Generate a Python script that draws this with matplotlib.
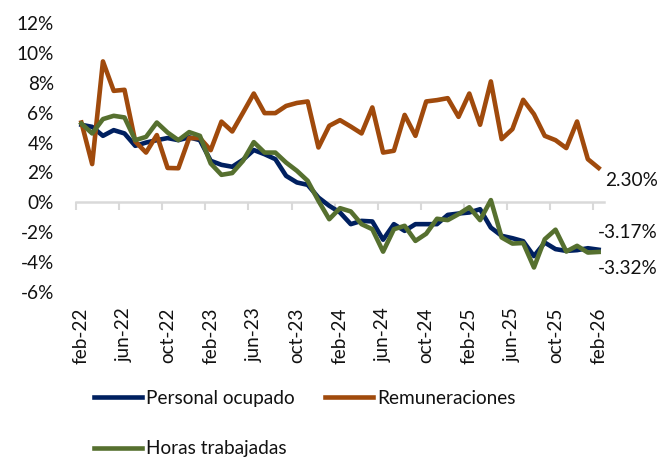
import numpy as np
import matplotlib
matplotlib.use("Agg")
import matplotlib.pyplot as plt

plt.rcParams['font.family'] = ['Lato', 'DejaVu Sans']

tick_labels = ["feb-22", "jun-22", "oct-22", "feb-23", "jun-23", "oct-23", "feb-24",
               "jun-24", "oct-24", "feb-25", "jun-25", "oct-25", "feb-26"]

remuneraciones = [5.34, 2.56, 9.43, 7.46, 7.53, 4.07, 3.33, 4.5, 2.3, 2.28,
                  4.3, 4.3, 3.49, 5.4, 4.74, 6.0, 7.28, 5.97, 5.97, 6.45,
                  6.65, 6.75, 3.67, 5.12, 5.5, 5.07, 4.61, 6.35, 3.33, 3.45,
                  5.85, 4.45, 6.75, 6.84, 6.97, 5.72, 7.28, 5.19, 8.09, 4.23,
                  4.9, 6.86, 5.9, 4.45, 4.16, 3.63, 5.41, 2.89, 2.30]

personal = [5.19, 5.05, 4.45, 4.83, 4.61, 3.78, 4.0, 4.16, 4.30, 4.16,
            4.35, 4.16, 2.78, 2.51, 2.38, 2.85, 3.5, 3.22, 2.89, 1.77,
            1.33, 1.17, 0.32, -0.23, -0.68, -1.46, -1.24, -1.28, -2.5, -1.46,
            -1.91, -1.46, -1.46, -1.46, -0.84, -0.75, -0.68, -0.46, -1.69, -2.24,
            -2.4, -2.6, -3.6, -2.69, -3.13, -3.25, -3.2, -3.07, -3.17]

horas = [5.27, 4.61, 5.57, 5.79, 5.68, 4.16, 4.38, 5.34, 4.67, 4.16,
         4.7, 4.45, 2.6, 1.84, 1.96, 2.78, 4.03, 3.33, 3.33, 2.66,
         2.11, 1.44, 0.10, -1.13, -0.39, -0.61, -1.46, -1.80, -3.3, -1.80,
         -1.57, -2.58, -2.1, -1.1, -1.19, -0.79, -0.33, -1.19, 0.15, -2.35,
         -2.76, -2.72, -4.36, -2.47, -1.83, -3.29, -2.91, -3.36, -3.32]

c_blue = '#002060'
c_orange = '#A04A0C'
c_green = '#56702F'
grid_c = '#D9D9D9'
txt_c = '#111111'
fs = 13.7

x = np.arange(len(personal))

fig = plt.figure(figsize=(6.68, 4.57), dpi=100)
ax = fig.add_axes([76/668, 1-292/457, (604-76)/668, (292-23)/457])

l_p, = ax.plot(x, personal, color=c_blue, lw=3.3, label='Personal ocupado', zorder=3, solid_joinstyle='round')
l_r, = ax.plot(x, remuneraciones, color=c_orange, lw=3.3, label='Remuneraciones', zorder=3, solid_joinstyle='round')
l_h, = ax.plot(x, horas, color=c_green, lw=3.3, label='Horas trabajadas', zorder=4, solid_joinstyle='round')

ax.set_xlim(-0.5, len(x) - 0.5)
ax.set_ylim(-6, 12)
ax.set_yticks(np.arange(-6, 13, 2))
ax.set_yticklabels([f"{v}%" for v in range(-6, 13, 2)])
ax.tick_params(axis='y', length=0, pad=16, labelsize=fs, labelcolor=txt_c)

for s in ['left', 'right', 'top']:
    ax.spines[s].set_visible(False)
ax.spines['bottom'].set_position(('data', 0))
ax.spines['bottom'].set_color(grid_c)
ax.spines['bottom'].set_linewidth(1.8)
ax.set_xticks(np.arange(-0.5, len(x) - 0.5, 4))
ax.tick_params(axis='x', length=6, width=1.5, color=grid_c, labelbottom=False)

sec = ax.secondary_xaxis('bottom')
sec.set_xticks(np.arange(0, len(x), 4))
sec.set_xticklabels(tick_labels, rotation=90)
sec.tick_params(length=0, pad=11, labelsize=fs, labelcolor=txt_c)
sec.spines['bottom'].set_visible(False)

ax.annotate("2.30%", (x[-1], remuneraciones[-1]), xytext=(59, -13), textcoords='offset pixels',
            ha='right', va='center', fontsize=fs, color=txt_c)
ax.annotate("-3.17%", (x[-1], personal[-1]), xytext=(59, 17), textcoords='offset pixels',
            ha='right', va='center', fontsize=fs, color=txt_c)
ax.annotate("-3.32%", (x[-1], horas[-1]), xytext=(59, -17), textcoords='offset pixels',
            ha='right', va='center', fontsize=fs, color=txt_c)

leg = fig.legend(handles=[l_p, l_h, l_r], loc='upper left', bbox_to_anchor=(94/668, 1-390/457),
                 ncol=2, frameon=False, fontsize=fs, handlelength=2.5, handletextpad=0.25,
                 columnspacing=1.6, labelspacing=1.75, borderpad=0, borderaxespad=0)
for t in leg.get_texts():
    t.set_color(txt_c)

fig.savefig('out.png', dpi=100)
